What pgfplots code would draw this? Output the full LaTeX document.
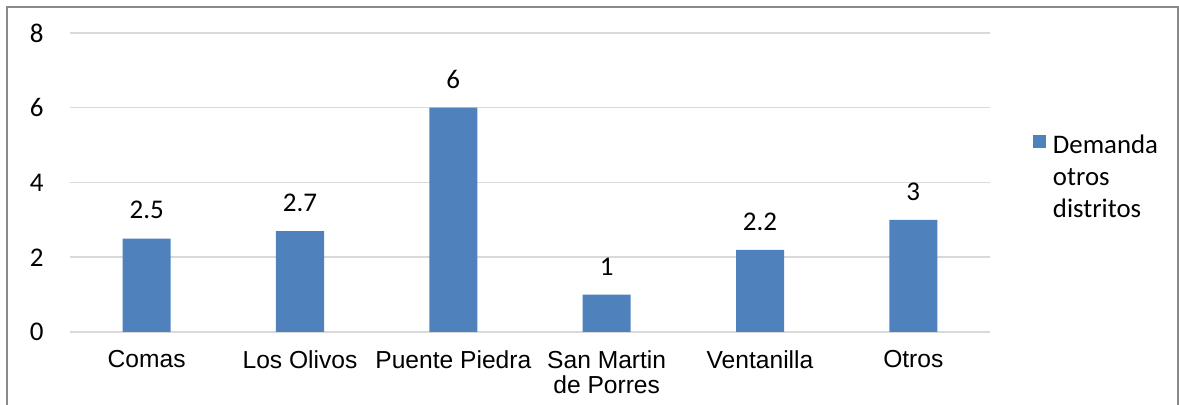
\documentclass[border=0pt]{standalone}
\usepackage{fontspec}
\setmainfont{Carlito}
\newfontfamily\arialf{Liberation Sans}
\usepackage{pgfplots}
\pgfplotsset{compat=1.18}
\definecolor{barblue}{HTML}{4F81BD}
\definecolor{gridgray}{HTML}{D9D9D9}
\definecolor{framegray}{HTML}{898989}
\begin{document}
\begin{tikzpicture}[x=1pt,y=1pt]
\useasboundingbox (0,0) rectangle (589.5,202.5);
\draw[framegray, line width=1pt] (3.5,-5) -- (3.5,199) -- (589,199) -- (589,-5);
\begin{axis}[
  at={(35pt,36.5pt)}, anchor=south west,
  width=460pt, height=149.5pt, scale only axis,
  ybar, bar width=24pt,
  xmin=-0.5, xmax=5.5, ymin=0, ymax=8,
  ytick={0,2,4,6,8},
  xtick={0,1,2,3,4,5},
  xticklabels={Comas, Los Olivos, Puente Piedra, San Martin\\de Porres, Ventanilla, Otros},
  /pgf/number format/assume math mode=true,
  axis x line*=bottom, axis y line*=left,
  y axis line style={draw=none},
  x axis line style={draw=gridgray, line width=0.75pt, -},
  major tick length=0pt,
  ymajorgrids, grid style={gridgray, line width=0.75pt},
  yticklabel style={font=\fontsize{13.5}{13.5}\selectfont, inner sep=0pt, anchor=east, xshift=-13pt},
  xticklabel style={font=\arialf\fontsize{12.3}{12.5}\selectfont, align=center, inner sep=0pt, anchor=north, yshift=-9pt},
  nodes near coords,
  every node near coord/.append style={font=\fontsize{13.5}{13.5}\selectfont, inner sep=0pt, anchor=south, yshift=9.5pt},
  legend style={at={(1.0467,0.685)}, anchor=north west, draw=none, inner sep=0pt, outer sep=0pt,
    font=\fontsize{13.4}{16}\selectfont, legend cell align=left},
  legend image code/.code={\fill[barblue] (0pt,-2.25pt) rectangle (6.5pt,4.25pt);},
]
\addplot[fill=barblue, draw=none] coordinates {(0,2.5) (1,2.7) (2,6) (3,1) (4,2.2) (5,3)};
\addlegendentry{\hspace{1.5pt}\begin{tabular}[t]{@{}l@{}}Demanda\\otros\\distritos\end{tabular}}
\end{axis}
\end{tikzpicture}
\end{document}
